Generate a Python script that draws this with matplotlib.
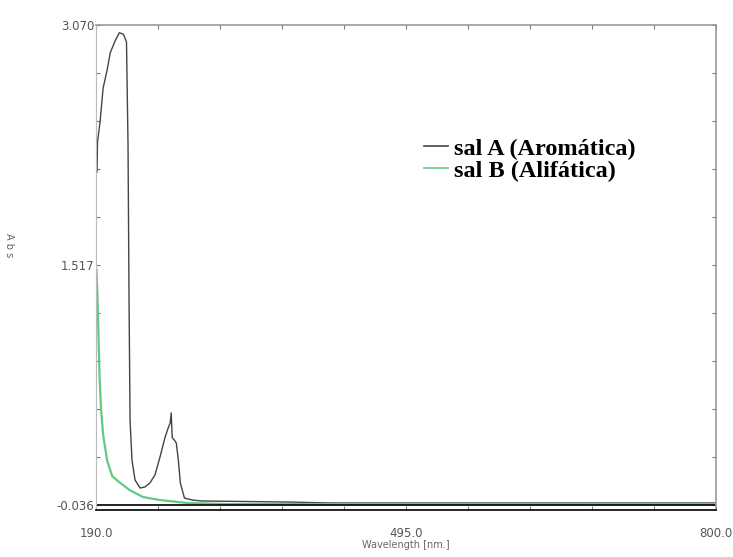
import matplotlib
matplotlib.use("Agg")
import matplotlib.pyplot as plt
import numpy as np

# --- data ---
wl_a = [191, 191.5, 194, 197, 201, 204, 209, 213, 217, 220, 221.5, 222.5, 223.5, 225.4,
        228.4, 233.3, 238, 243, 248, 253, 258, 261, 263, 264, 265, 267, 269, 271, 273,
        277, 285, 294, 381, 420, 800]
abs_a = [2.119, 2.313, 2.443, 2.662, 2.78, 2.89, 2.97, 3.02, 3.01, 2.96, 2.30, 1.29, 0.514,
         0.255, 0.126, 0.074, 0.08, 0.106, 0.158, 0.275, 0.404, 0.462, 0.495, 0.56, 0.40,
         0.385, 0.365, 0.255, 0.106, 0.009, -0.004, -0.01, -0.017, -0.023, -0.023]

wl_b = [190.5, 191.5, 192.5, 193.5, 195, 197, 201, 206, 214, 223, 236, 253, 279.5, 320, 800]
abs_b = [1.484, 1.30, 1.05, 0.80, 0.579, 0.420, 0.250, 0.150, 0.106, 0.061, 0.016, -0.004,
         -0.023, -0.030, -0.030]

labels = ["sal A (Aromática)", "sal B (Alifática)"]
colors = ["#444444", "#62c985"]

x_min, x_max = 190.0, 800.0
y_min, y_max = -0.036, 3.070

fig = plt.figure(figsize=(7.33, 5.57), dpi=100)
ax = fig.add_axes([96/733, 1-510/557, (716-96)/733, (510-25)/557])

ax.plot(wl_a, abs_a, color=colors[0], lw=1.0, label=labels[0])
ax.plot(wl_b, abs_b, color=colors[1], lw=1.6, label=labels[1])
ax.axhline(y_min, color="black", lw=1.2)

px = (y_max - y_min) / 480.0
ax.set_xlim(x_min, x_max)
ax.set_ylim(y_min - 5*px, y_max)

xt = [x_min + k*(x_max - x_min)/10 for k in range(11)]
yt = [y_min + k*(y_max - y_min)/10 for k in range(11)]
ax.set_xticks(xt)
ax.set_xticklabels([f"{v:.1f}" if k in (0, 5, 10) else "" for k, v in enumerate(xt)])
ax.set_yticks(yt)
ax.set_yticklabels([f"{v:.3f}" if k in (0, 5, 10) else "" for k, v in enumerate(yt)])

for t in ax.get_xticklabels() + ax.get_yticklabels():
    t.set_fontfamily(["Liberation Sans Narrow", "DejaVu Sans"])
    t.set_fontsize(8.5)
    t.set_color("#555555")

ax.tick_params(axis="both", direction="in", length=3, width=0.8, color="#777777",
               top=True, right=True)
ax.tick_params(axis="x", pad=12)
ax.tick_params(axis="y", pad=1)

for s in ["top", "right"]:
    ax.spines[s].set_color("#999999")
    ax.spines[s].set_linewidth(1.2)
ax.spines["left"].set_color("#bbbbbb")
ax.spines["left"].set_linewidth(0.8)
ax.spines["bottom"].set_color("black")
ax.spines["bottom"].set_linewidth(1.2)

ax.set_xlabel("Wavelength [nm.]", fontsize=7, color="#666666",
              family=["Liberation Sans Narrow", "DejaVu Sans"], labelpad=0)
fig.text(0.012, 0.56, "A b s", rotation=-90, fontsize=7, color="#666666",
         ha="center", va="center", family=["DejaVu Sans"])

leg = ax.legend(loc="upper left", bbox_to_anchor=((402-96)/620, (510-116)/485),
                frameon=False, handlelength=1.0, handletextpad=0.25, labelspacing=0.0,
                prop=dict(family=["Liberation Serif", "DejaVu Serif"], weight="bold", size=17.5))
for line in leg.get_lines():
    line.set_linewidth(1.2)

fig.savefig("out.png", dpi=100)
